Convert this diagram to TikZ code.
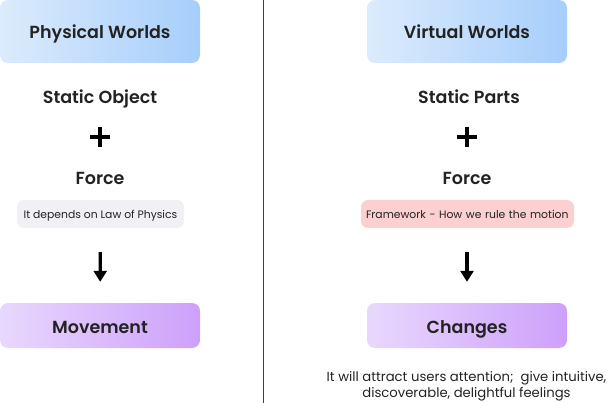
\documentclass[tikz,border=0pt]{standalone}
\usepackage{fontspec}
\setmainfont{Poppins}[BoldFont={* SemiBold}]
\usetikzlibrary{arrows.meta,calc}
\definecolor{txt}{HTML}{222222}
\definecolor{blueL}{HTML}{DCEBFD}
\definecolor{blueR}{HTML}{A6CEFB}
\definecolor{purpL}{HTML}{E8D8FD}
\definecolor{purpR}{HTML}{CDA0FB}
\definecolor{grayfill}{HTML}{F1F0F5}
\definecolor{pinkfill}{HTML}{FCCFD1}
\tikzset{
  x=1pt,y=-1pt,
  header/.style={shade, shading angle=90, left color=blueL, right color=blueR,
    rounded corners=8pt, minimum width=200pt, minimum height=63pt,
    text height=15pt, text depth=0pt,
    font=\fontsize{17.5}{20}\selectfont\bfseries, text=txt},
  result/.style={shade, left color=purpL, right color=purpR,
    rounded corners=8pt, minimum width=200pt, minimum height=45pt,
    text height=15pt, text depth=0pt,
    font=\fontsize{17.5}{20}\selectfont\bfseries, text=txt},
  term/.style={anchor=base, font=\fontsize{17.5}{20}\selectfont\bfseries, text=txt},
  note/.style={rounded corners=7pt, minimum height=28pt, inner xsep=6pt,
    text height=10pt, text depth=0pt,
    font=\fontsize{10.8}{12}\selectfont, text=txt},
  bigarrow/.style={line width=3.2pt, -{Triangle[width=13pt,length=11pt]}},
  plusbar/.style={line width=3.6pt, black},
  divider/.style={line width=0.9pt, black!75}
}
\begin{document}
\begin{tikzpicture}
\useasboundingbox (0,0) rectangle (610,403);
% divider
\coordinate (dtop) at (263,0);
\coordinate (dbot) at (263,403);
\draw[divider] (dtop) -- (dbot);
% left column
\node[header] (hL) at (100,31.5) {Physical Worlds};
\node[term] (sL) at (100,104) {Static Object};
\coordinate (pL) at (100,137);
\draw[plusbar] ($(pL)+(-10,0)$) -- ($(pL)+(10,0)$);
\draw[plusbar] ($(pL)+(0,-10)$) -- ($(pL)+(0,10)$);
\node[term] (fL) at (100,185) {Force};
\node[note, fill=grayfill, minimum width=167pt] (nL) at (100.5,214) {It depends on Law of Physics};
\node[result] (rL) at (100,325.5) {Movement};
\draw[bigarrow, shorten <=24pt, shorten >=21pt] (nL) -- (rL);
% right column
\node[header] (hR) at (467,31.5) {Virtual Worlds};
\node[term] (sR) at (469,104) {Static Parts};
\coordinate (pR) at (467,137);
\draw[plusbar] ($(pR)+(-10,0)$) -- ($(pR)+(10,0)$);
\draw[plusbar] ($(pR)+(0,-10)$) -- ($(pR)+(0,10)$);
\node[term] (fR) at (467,185) {Force};
\node[note, fill=pinkfill, minimum width=213pt, text width=207pt, inner xsep=3pt, align=left] (nR) at (467.5,214) {\hspace*{2pt}Framework - How we rule the motion};
\node[result] (rR) at (467,325.5) {Changes};
\draw[bigarrow, shorten <=24pt, shorten >=21pt] (nR.south -| rR.north) -- (rR.north);
\node[anchor=base, font=\fontsize{13.2}{16.5}\selectfont, text=txt, align=center] (cap) at (466.5,397.5)
  {It will attract users attention;\ \ give intuitive,\\discoverable, delightful feelings};
\end{tikzpicture}
\end{document}
